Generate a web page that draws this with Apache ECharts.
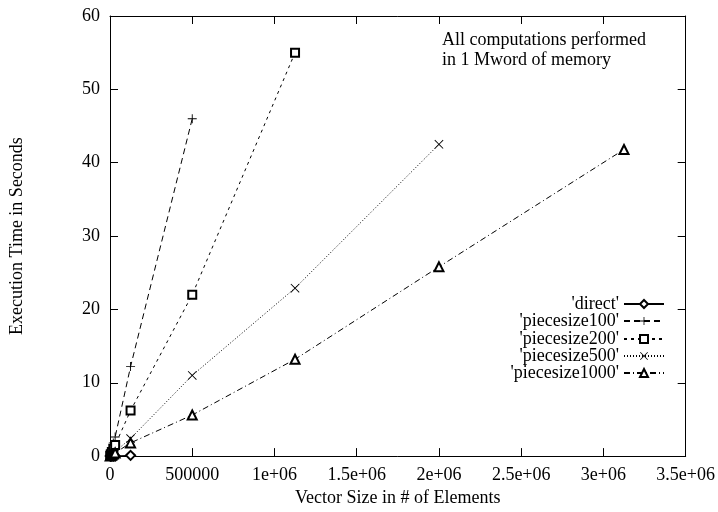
<!DOCTYPE html>
<html>
<head>
<meta charset="utf-8">
<script src="https://cdn.jsdelivr.net/npm/echarts@6/dist/echarts.min.js"></script>
<style>
  html, body { margin: 0; padding: 0; background: #fff; }
  #main { width: 718px; height: 512px; }
</style>
</head>
<body>
<div id="main"></div>
<script>
// ---- data ----
var xTickLabels = ['0', '500000', '1e+06', '1.5e+06', '2e+06', '2.5e+06', '3e+06', '3.5e+06'];

var sizesDirect = [1250, 5000, 11250, 20000, 31250, 125000];
var timeDirect = [0.0, 0.0, 0.01, 0.01, 0.02, 0.1];

var sizes100 = [1250, 5000, 11250, 20000, 31250, 125000, 500000];
var time100 = [0.1, 0.4, 1.0, 1.8, 2.6, 12.2, 46.0];

var sizes200 = [1250, 5000, 11250, 20000, 31250, 125000, 500000, 1125000];
var time200 = [0.05, 0.25, 0.55, 1.0, 1.5, 6.2, 22.0, 55.0];

var sizes500 = [1250, 5000, 11250, 20000, 31250, 125000, 500000, 1125000, 2000000];
var time500 = [0.02, 0.1, 0.2, 0.4, 0.6, 2.4, 11.0, 22.9, 42.5];

var sizes1000 = [1250, 5000, 11250, 20000, 31250, 125000, 500000, 1125000, 2000000, 3125000];
var time1000 = [0.02, 0.07, 0.15, 0.27, 0.42, 1.8, 5.6, 13.2, 25.8, 41.8];

var seriesNames = ["'direct'", "'piecesize100'", "'piecesize200'", "'piecesize500'", "'piecesize1000'"];

var FONT = 'Liberation Serif';

function pairs(xs, ys) {
  return xs.map(function (x, i) { return [x, ys[i]]; });
}

// thin plus / cross, drawn filled
var plusPath = 'path://M0,4.5h10v1h-10zM4.5,0h1v10h-1z';
var crossPath = 'path://M0,0.7L0.7,0L5,4.3L9.3,0L10,0.7L5.7,5L10,9.3L9.3,10L5,5.7L0.7,10L0,9.3L4.3,5z';

var myChart = echarts.init(document.getElementById('main'), null, { renderer: 'canvas' });

function baseAxis(pos, showLabel) {
  return {
    type: 'value',
    position: pos,
    axisLine: { show: true, onZero: false, lineStyle: { color: '#000', width: 1 } },
    axisTick: { show: true, inside: true, length: 8, lineStyle: { color: '#000' } },
    splitLine: { show: false },
    axisLabel: { show: showLabel, color: '#000', fontFamily: FONT, fontSize: 18, margin: 10 }
  };
}

var xBottom = baseAxis('bottom', true);
xBottom.min = 0; xBottom.max = 3500000; xBottom.interval = 500000;
xBottom.axisLabel.formatter = function (v) { return xTickLabels[Math.round(v / 500000)]; };
xBottom.name = 'Vector Size in # of Elements';
xBottom.nameLocation = 'middle';
xBottom.nameGap = 22;
xBottom.nameTextStyle = { color: '#000', fontFamily: FONT, fontSize: 18 };

var xTop = baseAxis('top', false);
xTop.min = 0; xTop.max = 3500000; xTop.interval = 500000;

var yLeft = baseAxis('left', true);
yLeft.min = 0; yLeft.max = 60; yLeft.interval = 10;
yLeft.name = 'Execution Time in Seconds';
yLeft.nameLocation = 'middle';
yLeft.nameGap = 84;
yLeft.nameTextStyle = { color: '#000', fontFamily: FONT, fontSize: 18 };

var yRight = baseAxis('right', false);
yRight.min = 0; yRight.max = 60; yRight.interval = 10;

function lineSeries(name, data, symbol, size, dash, border) {
  return {
    name: name,
    type: 'line',
    xAxisIndex: 0,
    yAxisIndex: 0,
    data: data,
    symbol: symbol,
    symbolSize: size,
    showAllSymbol: true,
    lineStyle: { color: '#000', width: 1, type: dash },
    itemStyle: { color: '#000', borderColor: '#000', borderWidth: border },
    emphasis: { disabled: true }
  };
}

var legendRows = [304, 321, 339, 356, 373];

var option = {
  animation: false,
  backgroundColor: '#fff',
  grid: { left: 110, right: 30, top: 16, bottom: 48 },
  xAxis: [xBottom, xTop],
  yAxis: [yLeft, yRight],
  legend: seriesNames.map(function (n, i) {
    return {
      data: [n],
      orient: 'vertical',
      right: 53,
      top: legendRows[i] - 9,
      align: 'right',
      padding: 0,
      itemWidth: 40,
      itemHeight: 10,
      selectedMode: false,
      textStyle: { color: '#000', fontFamily: FONT, fontSize: 18 }
    };
  }),
  graphic: [{
    type: 'text',
    left: 442,
    top: 30,
    style: {
      text: 'All computations performed\nin 1 Mword of memory',
      font: '18px "Liberation Serif"',
      fill: '#000',
      lineHeight: 20
    }
  }],
  series: [
    lineSeries(seriesNames[0], pairs(sizesDirect, timeDirect), 'emptyDiamond', 9, 'solid', 0.8),
    lineSeries(seriesNames[1], pairs(sizes100, time100), plusPath, 9, [6, 4], 0),
    lineSeries(seriesNames[2], pairs(sizes200, time200), 'emptyRect', 8, [3, 4], 0.8),
    lineSeries(seriesNames[3], pairs(sizes500, time500), crossPath, 9, [1, 2], 0),
    lineSeries(seriesNames[4], pairs(sizes1000, time1000), 'emptyTriangle', 9, [6, 3, 1, 3], 0.8)
  ]
};

myChart.setOption(option);
</script>
</body>
</html>
